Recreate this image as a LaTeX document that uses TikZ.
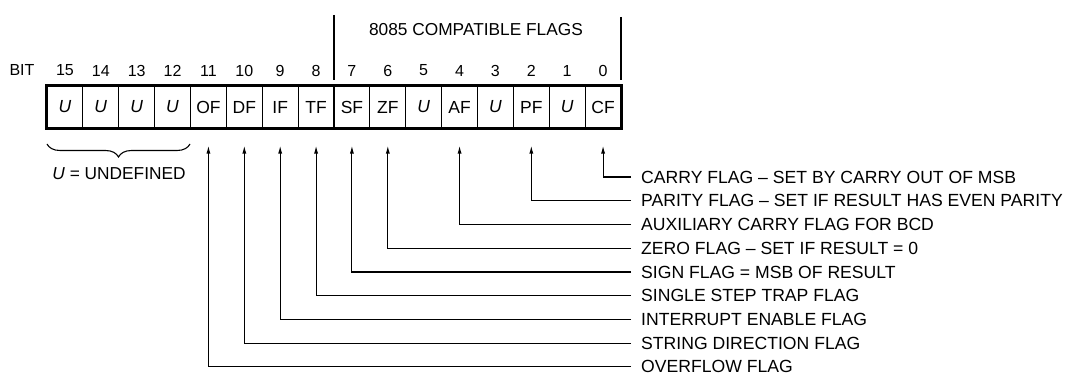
\documentclass[tikz,border=0pt]{standalone}
\usepackage{fontspec}
\setmainfont{Liberation Sans}
\usetikzlibrary{arrows.meta,decorations.pathreplacing}
\begin{document}
\begin{tikzpicture}[x=1pt,y=-1pt,
  cell/.style={draw, line width=1.1pt, minimum width=35.875pt, minimum height=42pt, inner sep=0pt, font=\fontsize{17.5}{17.5}\selectfont},
  bitnum/.style={inner sep=0pt, font=\fontsize{16}{16}\selectfont},
  lbl/.style={anchor=west, inner xsep=10pt, inner ysep=0pt, font=\fontsize{17.6}{17.6}\selectfont},
  conn/.style={line width=1.1pt, -{Latex[length=8pt,width=4pt]}},
  grp/.style={line width=1.3pt}
]
\useasboundingbox (0,0) rectangle (1071,374);
% register cells
\foreach \lab [count=\j from 0] in {\textit{U},\textit{U},\textit{U},\textit{U},OF,DF,IF,TF,SF,ZF,\textit{U},AF,\textit{U},PF,\textit{U},CF}{
  \pgfmathtruncatemacro\b{15-\j}
  \node[cell] (b\b) at ({47+35.875*(\j+0.5)},107) {\raisebox{-2pt}{\lab}};
  \node[bitnum] (n\b) at ({47+35.875*(\j+0.5)},70.5) {\b};
}
\draw[line width=2.4pt] (b15.north west) rectangle (b0.south east);
\node[bitnum] (bit) at (22,69.5) {BIT};
% 8085 group
\coordinate (g1t) at (334,15);
\coordinate (g1b) at (334,80);
\coordinate (g2t) at (621,17);
\coordinate (g2b) at (621,80);
\draw[grp] (g1t) -- (g1b);
\draw[grp] (g2t) -- (g2b);
\node[inner sep=0pt, font=\fontsize{17.3}{17.3}\selectfont] (compat) at (476,29.5) {8085 COMPATIBLE FLAGS};
% brace
\coordinate (brl) at (47,144);
\coordinate (brr) at (190,144);
\draw[line width=1.1pt, decorate, decoration={brace, mirror, amplitude=13pt}] (brl) -- (brr);
\node[inner sep=0pt, font=\fontsize{17.3}{17.3}\selectfont] (undef) at (119,174) {\textit{U} = UNDEFINED};
% labels
\node[lbl] (lCF) at (631,177) {CARRY FLAG – SET BY CARRY OUT OF MSB};
\node[lbl] (lPF) at (631,200.75) {PARITY FLAG – SET IF RESULT HAS EVEN PARITY};
\node[lbl] (lAF) at (631,224.5) {AUXILIARY CARRY FLAG FOR BCD};
\node[lbl] (lZF) at (631,248.25) {ZERO FLAG – SET IF RESULT = 0};
\node[lbl] (lSF) at (631,272) {SIGN FLAG = MSB OF RESULT};
\node[lbl] (lTF) at (631,295.75) {SINGLE STEP TRAP FLAG};
\node[lbl] (lIF) at (631,319.5) {INTERRUPT ENABLE FLAG};
\node[lbl] (lDF) at (631,343.25) {STRING DIRECTION FLAG};
\node[lbl] (lOF) at (631,366.5) {OVERFLOW FLAG};
% connectors
\draw[conn] (lCF.west) -| ([yshift=-17pt]b0.south);
\draw[conn] (lPF.west) -| ([yshift=-17pt]b2.south);
\draw[conn] (lAF.west) -| ([yshift=-17pt]b4.south);
\draw[conn] (lZF.west) -| ([yshift=-17pt]b6.south);
\draw[conn] (lSF.west) -| ([yshift=-17pt]b7.south);
\draw[conn] (lTF.west) -| ([yshift=-17pt]b8.south);
\draw[conn] (lIF.west) -| ([yshift=-17pt]b9.south);
\draw[conn] (lDF.west) -| ([yshift=-17pt]b10.south);
\draw[conn] (lOF.west) -| ([yshift=-17pt]b11.south);
\end{tikzpicture}
\end{document}
